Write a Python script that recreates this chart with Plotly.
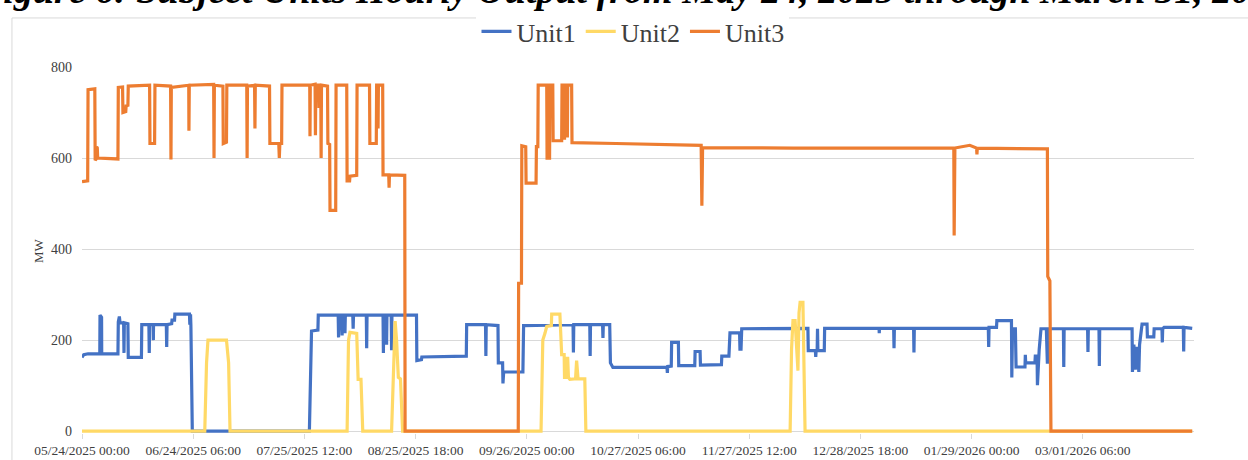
import pandas as pd
import plotly.graph_objects as go

# ---------------- data ----------------
start_time = "2025-05-24 00:00"
end_time = "2026-04-01 12:00"

tick_labels = ["05/24/2025 00:00", "06/24/2025 06:00", "07/25/2025 12:00",
               "08/25/2025 18:00", "09/26/2025 00:00", "10/27/2025 06:00",
               "11/27/2025 12:00", "12/28/2025 18:00", "01/29/2026 00:00",
               "03/01/2026 06:00"]
y_ticks = [0, 200, 400, 600, 800]

# days since 05/24/2025 00:00, and MW
unit1_day = [0.0, 0.5, 1.7, 5.0, 5.06, 5.5, 5.54, 10.1, 10.2, 10.5, 10.7, 11.7, 11.8, 11.9,
             12.9, 13.0, 16.7, 16.8, 18.8, 18.9, 19.0, 20.0, 20.05, 20.1, 23.7, 23.8, 23.9,
             25.2, 25.3, 26.0, 26.1, 30.2, 30.3, 30.5, 30.6, 31.0, 63.9, 64.5, 66.3, 66.4,
             72.0, 72.1, 72.3, 73.0, 73.1, 73.2, 73.8, 73.9, 74.0, 76.1, 76.2, 76.3,
             79.9, 80.0, 80.1, 84.6, 84.7, 84.8, 85.5, 85.6, 85.7, 86.9, 87.0, 87.1,
             94.0, 94.1, 95.4, 95.5, 108.0, 108.1, 113.4, 113.5, 113.6, 116.9, 117.0,
             118.2, 118.3, 118.5, 123.9, 124.1, 138.0, 138.1, 138.2, 142.7, 142.8, 142.9,
             146.3, 146.4, 146.5, 148.3, 148.5, 149.2, 164.4, 164.5, 164.6, 165.6, 165.7,
             167.6, 167.7, 172.2, 172.3, 173.7, 173.8, 179.7, 179.8, 181.8, 181.9, 182.1,
             184.8, 184.9, 185.2, 185.4, 204.0, 204.1, 206.1, 206.2, 206.3, 206.6, 206.7,
             206.8, 208.6, 208.7, 224.0, 224.05, 224.1, 228.1, 228.2, 228.3, 233.7, 233.8,
             233.9, 254.7, 254.8, 254.9, 257.0, 257.1, 261.2, 261.3, 261.5, 262.3, 262.5,
             265.0, 265.1, 265.2, 267.8, 267.9, 268.4, 268.5, 269.0, 269.5, 271.0, 271.3,
             271.5, 275.8, 275.9, 276.0, 282.6, 282.7, 282.8, 285.8, 285.9, 286.0, 295.1,
             295.2, 295.6, 296.0, 296.5, 297.0, 297.2, 297.9, 299.3, 299.4, 301.2, 301.3,
             303.5, 303.6, 303.7, 304.1, 309.5, 309.6, 309.7, 312.0]
unit1_mw = [162, 168, 170, 170, 255, 250, 170, 170, 240, 252, 238, 238, 172, 238,
            236, 162, 162, 234, 234, 172, 234, 234, 200, 234, 234, 185, 234,
            236, 244, 244, 257, 257, 234, 257, 232, 0, 0, 220, 222, 255,
            255, 206, 255, 255, 210, 255, 255, 215, 255, 255, 225, 255,
            255, 182, 255, 255, 172, 255, 255, 190, 255, 255, 178, 255,
            255, 155, 157, 163, 165, 234, 234, 165, 234, 232, 150,
            150, 105, 130, 130, 232, 234, 173, 234, 234, 165, 234,
            234, 205, 234, 234, 150, 140, 140, 128, 142, 143, 195,
            195, 144, 144, 175, 175, 145, 146, 165, 165, 195, 216,
            216, 180, 180, 225, 226, 177, 177, 163, 177, 177, 225,
            177, 177, 226, 226, 215, 226, 226, 182, 226, 226, 173,
            226, 226, 185, 228, 228, 243, 243, 118, 225, 225, 141,
            141, 168, 150, 150, 165, 165, 101, 180, 225, 225, 148,
            225, 225, 141, 225, 225, 174, 225, 225, 143, 225, 225,
            130, 190, 135, 185, 130, 190, 235, 235, 207, 207, 225,
            225, 195, 225, 228, 228, 175, 228, 226]

unit2_day = [0.0, 34.5, 35.0, 35.4, 40.6, 41.2, 41.6, 74.5, 74.9, 75.3, 77.2, 77.6, 78.4,
             78.9, 87.0, 87.6, 88.0, 88.4, 88.9, 89.5, 90.1, 129.0, 129.5, 130.1, 130.6,
             131.9, 132.0, 134.3, 134.8, 135.5, 135.6, 136.0, 136.1, 136.5, 136.7, 137.1,
             138.7, 139.0, 139.4, 141.3, 141.6, 199.0, 199.4, 199.8, 200.4, 201.2, 201.5,
             201.8, 202.6, 203.2, 312.0]
unit2_mw = [0, 0, 150, 200, 200, 150, 0, 0, 200, 217, 215, 114, 114,
            0, 0, 180, 242, 200, 118, 115, 0, 0, 200, 215, 230,
            232, 257, 257, 168, 168, 118, 118, 160, 160, 118, 114,
            115, 155, 115, 115, 0, 0, 180, 243, 243, 133, 260,
            283, 283, 0, 0]

unit3_day = [0.0, 1.6, 1.7, 3.6, 3.7, 4.0, 4.1, 4.3, 4.4, 10.1, 10.2, 11.4, 11.5, 12.3,
             12.4, 12.9, 13.0, 19.0, 19.1, 20.4, 20.5, 24.9, 25.0, 25.1, 30.0, 30.05,
             30.15, 37.0, 37.1, 37.2, 39.6, 39.7, 40.6, 40.7, 46.3, 46.4, 46.5, 48.5,
             48.6, 48.7, 52.7, 52.8, 55.3, 55.45, 55.6, 56.1, 56.2, 64.0, 64.07, 64.15,
             65.5, 65.6, 65.7, 66.5, 66.6, 66.7, 67.1, 67.2, 67.3, 69.0, 69.1, 69.6,
             69.7, 71.3, 71.4, 74.4, 74.5, 75.2, 75.3, 77.2, 77.3, 80.8, 80.9, 82.7,
             82.8, 83.1, 83.2, 83.3, 84.5, 84.6, 86.2, 86.3, 86.4, 90.7, 90.8, 122.6,
             122.7, 123.5, 123.6, 124.7, 124.8, 127.6, 127.7, 128.1, 128.2, 130.6, 130.7,
             131.4, 131.5, 132.3, 132.4, 134.8, 134.9, 135.5, 135.6, 135.7, 136.3, 136.4,
             136.5, 137.6, 137.7, 150.0, 165.0, 174.0, 174.2, 174.4, 200.0, 245.0, 245.1,
             245.3, 249.5, 251.4, 251.5, 251.6, 271.3, 271.4, 272.0, 272.3, 312.0]
unit3_mw = [548, 550, 750, 752, 595, 598, 625, 622, 600, 598, 755, 756, 700, 702,
            715, 716, 758, 760, 632, 632, 760, 758, 597, 755, 760, 660,
            760, 762, 600, 760, 758, 632, 635, 760, 760, 600, 758, 760,
            665, 760, 758, 632, 632, 600, 632, 632, 760, 760, 648, 760,
            762, 650, 760, 760, 710, 760, 760, 600, 760, 758, 632, 630,
            485, 485, 760, 760, 550, 550, 560, 562, 760, 760, 632, 632,
            760, 760, 665, 760, 760, 563, 563, 535, 563, 562, 0, 0,
            325, 325, 627, 625, 545, 545, 625, 625, 760, 760, 600,
            600, 760, 760, 638, 638, 760, 760, 640, 760, 760, 645,
            760, 760, 634, 632, 630, 628, 495, 623, 622, 622, 430,
            622, 628, 622, 608, 622, 620, 340, 330, 0, 0]

series_names = ["Unit1", "Unit2", "Unit3"]
series_colors = ["#4472C4", "#FFD966", "#ED7D31"]

# ---------------- figure ----------------
t0 = pd.Timestamp(start_time)


def to_time(days):
    return [t0 + pd.Timedelta(days=d) for d in days]


tick_vals = [pd.to_datetime(s, format="%m/%d/%Y %H:%M") for s in tick_labels]

fig = go.Figure()
for name, days, mw, col in zip(series_names,
                                [unit1_day, unit2_day, unit3_day],
                                [unit1_mw, unit2_mw, unit3_mw],
                                series_colors):
    fig.add_trace(go.Scatter(x=to_time(days), y=mw, mode="lines", name=name,
                             line=dict(color=col, width=3.2)))

serif = "Liberation Serif, Times New Roman, serif"

fig.update_layout(
    width=1248, height=460,
    margin=dict(l=82, r=54, t=67, b=27, autoexpand=False),
    paper_bgcolor="white", plot_bgcolor="white",
    font=dict(family=serif, color="#595959"),
    showlegend=True,
    legend=dict(orientation="h", x=0.4955, xanchor="center", y=1.097, yanchor="middle",
                font=dict(size=26, color="#404040", family=serif),
                itemwidth=30, traceorder="normal"),
    xaxis=dict(type="date", range=[start_time, end_time], tickvals=tick_vals,
               ticktext=tick_labels, showgrid=False, showline=False, zeroline=False,
               automargin=False,
               ticks="outside", ticklen=5, tickcolor="#D9D9D9",
               tickfont=dict(size=13.5, color="#404040", family=serif)),
    yaxis=dict(range=[-4, 800], tickvals=y_ticks, showgrid=True, gridcolor="#D9D9D9",
               gridwidth=1, zeroline=True, zerolinecolor="#D9D9D9", zerolinewidth=1,
               showline=False, ticks="", ticklabelstandoff=9, automargin=False,
               tickfont=dict(size=14, color="#404040", family=serif)),
    shapes=[dict(type="rect", xref="paper", yref="paper", x0=-0.063, x1=1.08,
                 y0=-0.3, y1=1.134, line=dict(color="#D9D9D9", width=1),
                 fillcolor="rgba(0,0,0,0)", layer="below")],
    annotations=[
        dict(text="MW", xref="paper", yref="paper", x=-0.0396, y=0.5, textangle=-90,
             xanchor="center", yanchor="middle", showarrow=False,
             font=dict(size=13, color="#404040", family=serif)),
        dict(text="<b><i>Figure 6: Subject Units Hourly Output from May 24, 2025 "
                  "through March 31, 2026</i></b>",
             xref="paper", yref="paper", x=0.4955, y=1.147, xanchor="center",
             yanchor="bottom", showarrow=False,
             font=dict(size=38, color="black", family=serif)),
    ],
)

fig.write_html("out.html",
               config={"displayModeBar": False},
               post_script="document.body.style.margin='0';"
                           "document.body.style.padding='0';")
